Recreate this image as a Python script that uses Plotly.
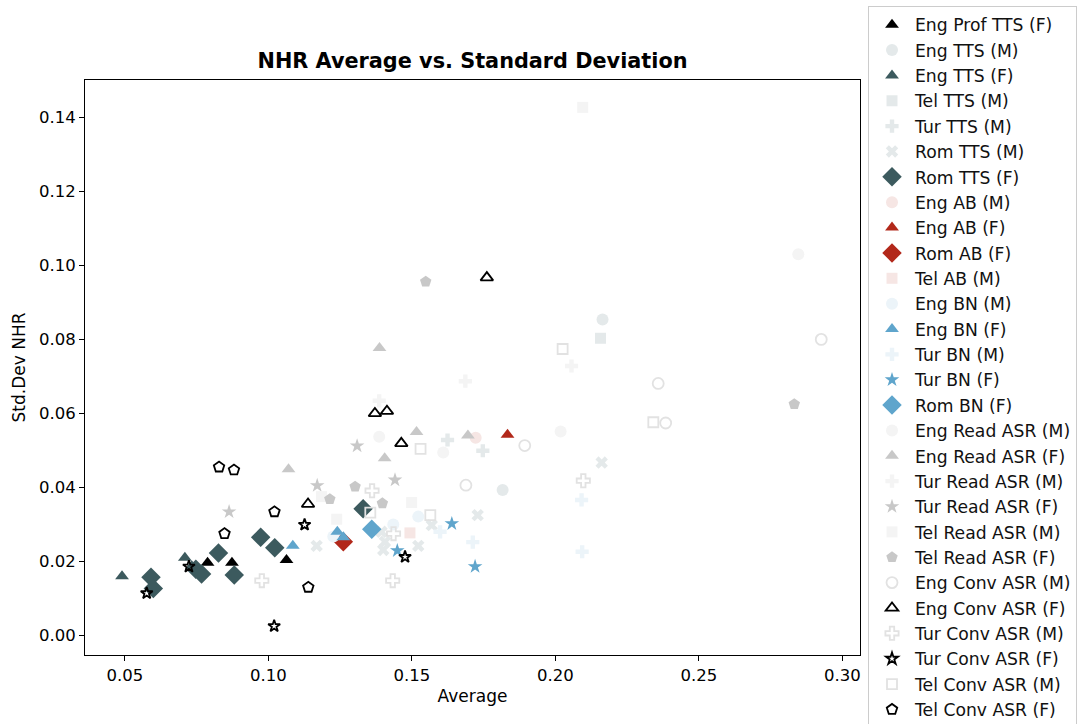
import plotly.graph_objects as go

# ---------------- data (Average, Std.Dev NHR) ----------------
eng_prof_tts_f_x = [0.0788, 0.0873, 0.1063]
eng_prof_tts_f_y = [0.0195, 0.0195, 0.0203]

eng_tts_m_x = [0.1816, 0.2164]
eng_tts_m_y = [0.0392, 0.0853]

eng_tts_f_x = [0.0490, 0.0709, 0.0733]
eng_tts_f_y = [0.0159, 0.0209, 0.0186]

tel_tts_m_x = [0.2157]
tel_tts_m_y = [0.0802]

tur_tts_m_x = [0.1624, 0.1747]
tur_tts_m_y = [0.0527, 0.0498]

rom_tts_m_x = [0.1168, 0.1394, 0.1406, 0.1400, 0.1522, 0.1569, 0.1729, 0.2161]
rom_tts_m_y = [0.0241, 0.0279, 0.0252, 0.0230, 0.0241, 0.0297, 0.0324, 0.0466]

rom_tts_f_x = [0.0591, 0.0599, 0.0747, 0.0767, 0.0826, 0.0881, 0.0973, 0.1022, 0.1330]
rom_tts_f_y = [0.0156, 0.0126, 0.0178, 0.0165, 0.0222, 0.0162, 0.0264, 0.0236, 0.0341]

eng_ab_m_x = [0.1722]
eng_ab_m_y = [0.0533]

eng_ab_f_x = [0.1833]
eng_ab_f_y = [0.0541]

rom_ab_f_x = [0.1261]
rom_ab_f_y = [0.0252]

tel_ab_m_x = [0.1493]
tel_ab_m_y = [0.0276]

eng_bn_m_x = [0.1522, 0.1435, 0.1226]
eng_bn_m_y = [0.0320, 0.0299, 0.0266]

eng_bn_f_x = [0.1240, 0.1261, 0.1085]
eng_bn_f_y = [0.0279, 0.0264, 0.0241]

tur_bn_m_x = [0.1598, 0.1712, 0.2091, 0.2093]
tur_bn_m_y = [0.0279, 0.0251, 0.0365, 0.0225]

tur_bn_f_x = [0.1639, 0.1449, 0.1720]
tur_bn_f_y = [0.0301, 0.0228, 0.0185]

rom_bn_f_x = [0.1360]
rom_bn_f_y = [0.0286]

eng_read_m_x = [0.1386, 0.1609, 0.2018, 0.2846]
eng_read_m_y = [0.0536, 0.0493, 0.0550, 0.1029]

eng_read_f_x = [0.1516, 0.1405, 0.1070, 0.1387, 0.1695]
eng_read_f_y = [0.0549, 0.0478, 0.0448, 0.0776, 0.0539]

tur_read_m_x = [0.1686, 0.2056, 0.1386]
tur_read_m_y = [0.0686, 0.0727, 0.0633]

tur_read_f_x = [0.1309, 0.1441, 0.1170, 0.0863]
tur_read_f_y = [0.0511, 0.0419, 0.0404, 0.0333]

tel_read_m_x = [0.1499, 0.1238, 0.1185, 0.2095]
tel_read_m_y = [0.0358, 0.0313, 0.0374, 0.1426]

tel_read_f_x = [0.1302, 0.1214, 0.1397, 0.1548, 0.2832]
tel_read_f_y = [0.0401, 0.0367, 0.0356, 0.0955, 0.0624]

eng_conv_m_x = [0.1893, 0.1688, 0.2358, 0.2384, 0.2926]
eng_conv_m_y = [0.0512, 0.0405, 0.0680, 0.0573, 0.0799]

eng_conv_f_x = [0.1761, 0.1371, 0.1413, 0.1463, 0.1138]
eng_conv_f_y = [0.0966, 0.0599, 0.0605, 0.0518, 0.0354]

tur_conv_m_x = [0.1361, 0.1436, 0.2097, 0.1433, 0.0977]
tur_conv_m_y = [0.0390, 0.0274, 0.0417, 0.0147, 0.0147]

tur_conv_f_x = [0.0723, 0.0576, 0.1126, 0.1476, 0.1020]
tur_conv_f_y = [0.0185, 0.0113, 0.0298, 0.0211, 0.0024]

tel_conv_m_x = [0.1530, 0.2025, 0.2341, 0.1564, 0.1355]
tel_conv_m_y = [0.0503, 0.0773, 0.0575, 0.0324, 0.0331]

tel_conv_f_x = [0.0828, 0.0880, 0.1021, 0.0847, 0.1139]
tel_conv_f_y = [0.0454, 0.0446, 0.0333, 0.0274, 0.0129]

x_ticks = [0.05, 0.10, 0.15, 0.20, 0.25, 0.30]
y_ticks = [0.00, 0.02, 0.04, 0.06, 0.08, 0.10, 0.12, 0.14]

# ---------------- styles ----------------
BLACK = "#000000"
TEAL = "#3c5a5e"
TEAL_L = "#e4e9ea"
RED = "#b2281a"
RED_L = "#f6e6e4"
BLUE = "#5fa5cc"
BLUE_L = "#ecf4f9"
GRAY = "#c8c8c8"
GRAY_L = "#f4f4f4"
GRAY_O = "#e2e2e2"

series = [
    ("Eng Prof TTS (F)", eng_prof_tts_f_x, eng_prof_tts_f_y, "triangle-up", BLACK, 12),
    ("Eng TTS (M)", eng_tts_m_x, eng_tts_m_y, "circle", TEAL_L, 12),
    ("Eng TTS (F)", eng_tts_f_x, eng_tts_f_y, "triangle-up", TEAL, 12),
    ("Tel TTS (M)", tel_tts_m_x, tel_tts_m_y, "square", TEAL_L, 11),
    ("Tur TTS (M)", tur_tts_m_x, tur_tts_m_y, "cross", TEAL_L, 11),
    ("Rom TTS (M)", rom_tts_m_x, rom_tts_m_y, "x", TEAL_L, 11),
    ("Rom TTS (F)", rom_tts_f_x, rom_tts_f_y, "diamond", TEAL, 15),
    ("Eng AB (M)", eng_ab_m_x, eng_ab_m_y, "circle", RED_L, 12),
    ("Eng AB (F)", eng_ab_f_x, eng_ab_f_y, "triangle-up", RED, 12),
    ("Rom AB (F)", rom_ab_f_x, rom_ab_f_y, "diamond", RED, 15),
    ("Tel AB (M)", tel_ab_m_x, tel_ab_m_y, "square", RED_L, 11),
    ("Eng BN (M)", eng_bn_m_x, eng_bn_m_y, "circle", BLUE_L, 12),
    ("Eng BN (F)", eng_bn_f_x, eng_bn_f_y, "triangle-up", BLUE, 12),
    ("Tur BN (M)", tur_bn_m_x, tur_bn_m_y, "cross", BLUE_L, 11),
    ("Tur BN (F)", tur_bn_f_x, tur_bn_f_y, "star", BLUE, 11),
    ("Rom BN (F)", rom_bn_f_x, rom_bn_f_y, "diamond", BLUE, 15),
    ("Eng Read ASR (M)", eng_read_m_x, eng_read_m_y, "circle", GRAY_L, 12),
    ("Eng Read ASR (F)", eng_read_f_x, eng_read_f_y, "triangle-up", GRAY, 12),
    ("Tur Read ASR (M)", tur_read_m_x, tur_read_m_y, "cross", GRAY_L, 11),
    ("Tur Read ASR (F)", tur_read_f_x, tur_read_f_y, "star", GRAY, 11),
    ("Tel Read ASR (M)", tel_read_m_x, tel_read_m_y, "square", GRAY_L, 11),
    ("Tel Read ASR (F)", tel_read_f_x, tel_read_f_y, "pentagon", GRAY, 12),
    ("Eng Conv ASR (M)", eng_conv_m_x, eng_conv_m_y, "circle-open", GRAY_O, 11),
    ("Eng Conv ASR (F)", eng_conv_f_x, eng_conv_f_y, "triangle-up-open", BLACK, 11),
    ("Tur Conv ASR (M)", tur_conv_m_x, tur_conv_m_y, "cross-open", GRAY_O, 11),
    ("Tur Conv ASR (F)", tur_conv_f_x, tur_conv_f_y, "star-open", BLACK, 9),
    ("Tel Conv ASR (M)", tel_conv_m_x, tel_conv_m_y, "square-open", GRAY_O, 10),
    ("Tel Conv ASR (F)", tel_conv_f_x, tel_conv_f_y, "pentagon-open", BLACK, 11),
]

FONT = "DejaVu Sans, Verdana, sans-serif"

fig = go.Figure()
for name, xs, ys, sym, col, size in series:
    is_open = sym.endswith("-open")
    fig.add_trace(go.Scatter(
        x=xs, y=ys, mode="markers", name=name,
        marker=dict(symbol=sym, color=col, size=size,
                    line=dict(width=1.8 if is_open else 0, color=col)),
    ))

axis_common = dict(
    showgrid=False, zeroline=False, showline=True, mirror=True,
    linecolor="black", linewidth=1, ticks="outside", ticklen=5,
    tickcolor="black", tickwidth=1, automargin=False,
    tickfont=dict(family=FONT, size=16.5, color="black"),
)

fig.update_layout(
    width=1084, height=724,
    margin=dict(l=85, r=224, t=80, b=69, autoexpand=False),
    paper_bgcolor="white", plot_bgcolor="white",
    title=dict(text="<b>NHR Average vs. Standard Deviation</b>",
               x=(85 + 860) / 2 / 1084, xanchor="center",
               y=1 - 61 / 724, yanchor="middle",
               font=dict(family=FONT, size=20.8, color="black")),
    xaxis=dict(range=[0.0361, 0.3061], tickvals=x_ticks,
               ticktext=[f"{v:.2f}" for v in x_ticks],
               title=dict(text="Average", standoff=6,
                          font=dict(family=FONT, size=17, color="black")),
               **axis_common),
    yaxis=dict(range=[-0.0054, 0.15], tickvals=y_ticks,
               ticktext=[f"{v:.2f}" for v in y_ticks],
               title=dict(text="Std.Dev NHR", standoff=9,
                          font=dict(family=FONT, size=17, color="black")),
               **axis_common),
    legend=dict(x=868 / 1084, xref="container", xanchor="left",
                y=1 - 6 / 724, yref="container", yanchor="top",
                maxheight=1.0,
                font=dict(family=FONT, size=17.2, color="#111111"),
                bordercolor="#cccccc", borderwidth=1, bgcolor="white",
                tracegroupgap=0, itemsizing="trace", itemwidth=36),
    showlegend=True,
)

fig.write_html("out.html")
